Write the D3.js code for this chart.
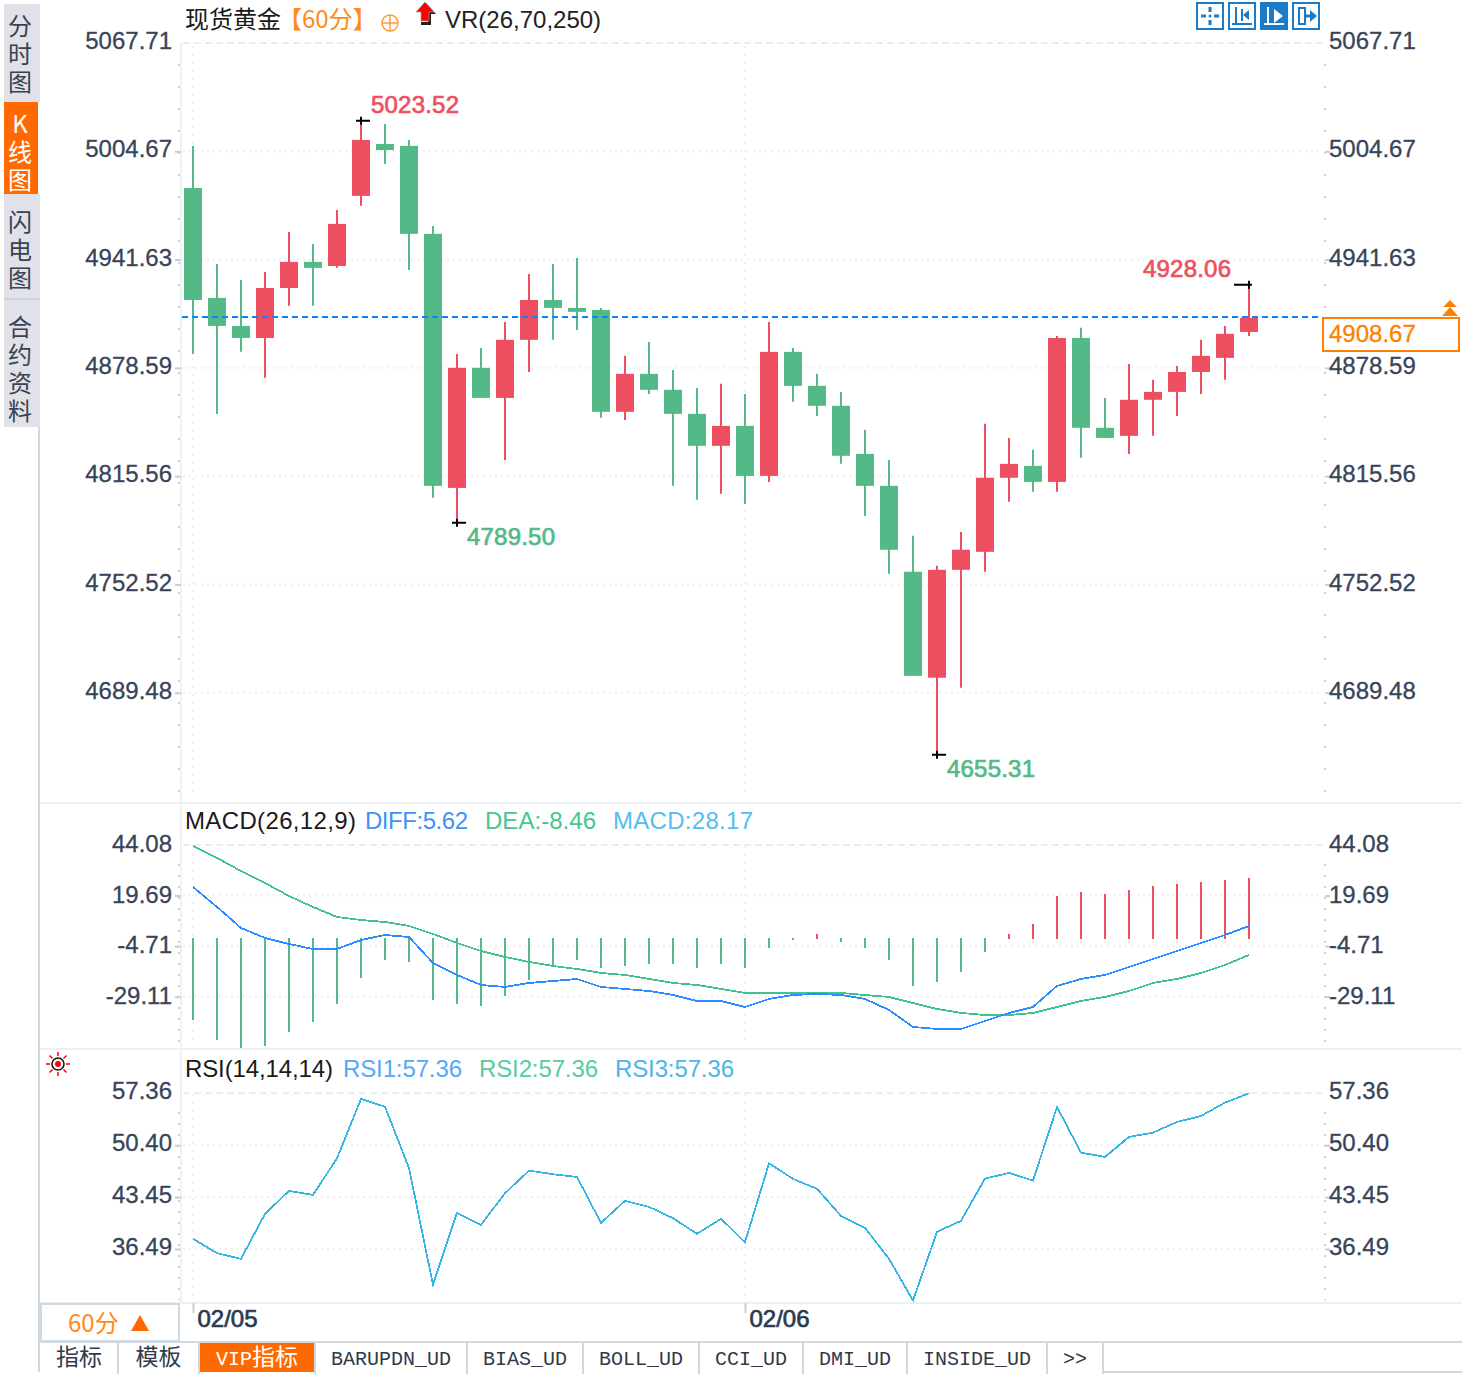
<!DOCTYPE html>
<html>
<head>
<meta charset="utf-8">
<script src="https://d3js.org/d3.v7.min.js"></script>
<style>
body {margin: 0; background: #fff;}
svg {display: block;}
text {font-family: "Liberation Sans", Arial, sans-serif;}
.cjk {font-family: "Noto Sans CJK SC", sans-serif;}
.mono {font-family: "Liberation Mono", "Noto Sans CJK SC", monospace;}
.side {writing-mode: vertical-rl; text-orientation: upright;}
.tick text {fill: #38445a; font-size: 24px; stroke: #38445a; stroke-width: 0.3px;}
.tick line {stroke: #c9ced4; stroke-width: 2;}
</style>
</head>
<body>
<svg width="1462" height="1374"></svg>
<script>
// candles
var open = [4983.3,4919.3,4903.0,4896.0,4925.1,4940.3,4937.9,4978.7,5008.9,5007.8,4956.6,4808.7,4878.6,4861.1,4894.9,4918.1,4913.5,4912.3,4853.0,4875.1,4865.8,4851.8,4833.2,4844.8,4815.7,4887.9,4868.1,4856.5,4828.5,4809.9,4759.9,4698.2,4761.0,4771.5,4814.6,4821.5,4812.2,4896.0,4843.7,4839.0,4860.0,4864.6,4876.2,4884.4,4899.5];
var close = [4918.1,4903.0,4896.0,4925.1,4940.3,4936.8,4962.4,5011.3,5005.4,4956.6,4809.9,4878.6,4861.1,4894.9,4918.1,4913.5,4911.2,4853.0,4875.1,4865.8,4851.8,4833.2,4844.8,4815.7,4887.9,4868.1,4856.5,4827.4,4809.9,4772.7,4699.3,4761.0,4772.7,4814.6,4822.7,4812.2,4896.0,4843.7,4837.8,4860.0,4864.6,4876.2,4885.6,4898.4,4907.7];
var high = [5007.8,4939.1,4929.8,4934.4,4957.7,4950.7,4970.5,5022.5,5020.6,5011.3,4961.2,4886.7,4890.2,4905.3,4933.3,4939.1,4942.6,4913.5,4885.6,4893.7,4877.4,4866.9,4869.3,4863.4,4905.3,4890.2,4875.1,4864.6,4842.5,4825.0,4780.8,4763.4,4783.1,4846.0,4837.8,4830.9,4897.2,4901.9,4861.1,4880.9,4871.6,4879.7,4894.9,4903.0,4926.9];
var low = [4886.7,4851.8,4887.9,4872.8,4914.7,4914.7,4936.8,4972.9,4997.3,4935.6,4802.9,4788.4,4861.1,4825.0,4876.2,4894.9,4900.7,4849.5,4848.3,4863.4,4809.9,4801.8,4805.3,4799.4,4812.2,4858.8,4850.6,4822.7,4792.4,4758.7,4699.3,4653.4,4692.3,4759.9,4800.6,4806.4,4806.4,4826.2,4837.8,4828.5,4839.0,4850.6,4863.4,4871.6,4897.2];

var macdBars = [-38.50,-47.89,-51.64,-50.70,-44.13,-39.44,-30.99,-18.78,-10.33,-11.27,-29.11,-30.99,-31.92,-27.23,-19.72,-13.50,-10.33,-14.08,-13.15,-12.21,-12.21,-14.08,-12.21,-14.08,-4.69,-0.94,1.88,-1.88,-4.69,-10.33,-22.54,-20.66,-15.96,-6.57,1.88,6.57,19.72,21.60,20.66,22.54,24.41,25.35,26.29,27.23,28.17];
var diff = [23.82,14.17,4.04,-0.78,-3.68,-6.09,-6.09,-1.75,0.66,-0.30,-12.84,-18.63,-23.46,-24.42,-22.49,-21.53,-20.56,-24.42,-25.38,-26.35,-28.28,-31.17,-31.17,-34.07,-30.21,-28.28,-27.80,-28.28,-30.21,-35.52,-43.72,-44.68,-44.68,-40.82,-36.96,-34.07,-23.94,-20.56,-18.63,-14.77,-10.91,-7.05,-3.19,0.66,5.00];
var dea = [43.60,37.81,31.54,25.75,19.48,14.17,9.35,7.90,6.94,5.01,1.15,-3.19,-7.05,-9.95,-12.36,-14.29,-15.74,-17.67,-18.63,-20.56,-22.49,-23.46,-25.38,-27.31,-27.31,-27.31,-27.31,-27.31,-28.28,-29.24,-32.14,-35.03,-36.96,-37.93,-37.93,-36.96,-34.07,-31.17,-29.24,-26.35,-22.49,-20.56,-17.67,-13.81,-8.98];
var rsi = [37.85,35.93,35.17,41.20,44.28,43.74,48.65,56.60,55.57,47.32,31.69,41.33,39.73,43.97,47.00,46.51,46.15,39.99,42.94,42.14,40.62,38.52,40.53,37.40,47.98,45.89,44.55,40.93,39.32,35.17,29.59,38.79,40.26,45.93,46.69,45.66,55.53,49.41,48.83,51.51,52.09,53.52,54.32,56.11,57.36];

var priceTicks = [5067.71,5004.67,4941.63,4878.59,4815.56,4752.52,4689.48];
var macdTicks = [44.08,19.69,-4.71,-29.11];
var rsiTicks = [57.36,50.40,43.45,36.49];
var lastPrice = 4908.67;
var dateLabels = ["02/05","02/06"];
var dateIndex = [0,23];

var sideTabs = ["分时图","K线图","闪电图","合约资料"];
var bottomTabs = ["指标","模板","VIP指标","BARUPDN_UD","BIAS_UD","BOLL_UD","CCI_UD","DMI_UD","INSIDE_UD",">>"];

var red = "#ee4f60", green = "#53b987", orange = "#ff7f00", frame = "#d0d8e0", sep = "#edf1f5";
var svg = d3.select("svg");
var bars = d3.range(open.length);

var xs = d3.scalePoint().domain(bars).range([193,1249]);
var ys = d3.scaleLinear().domain([5067.71,4689.48]).range([43,692.7]);
var ym = d3.scaleLinear().domain([44.08,-29.11]).range([845,996.7]);
var yh = d3.scaleLinear().domain([0,28.17]).range([938,878]);
var yr = d3.scaleLinear().domain([57.36,36.49]).range([1093.3,1249]);

// frame + pane separators
[[40,803,1462,803],[40,1049,1462,1049],[40,1303,1462,1303]].forEach(function(l){
  svg.append("line").attr("x1",l[0]).attr("y1",l[1]).attr("x2",l[2]).attr("y2",l[3]).attr("stroke",sep).attr("stroke-width",2);
});
svg.append("line").attr("x1",181).attr("y1",43).attr("x2",181).attr("y2",1303).attr("stroke",sep).attr("stroke-width",2);
svg.append("line").attr("x1",39).attr("y1",427).attr("x2",39).attr("y2",1372).attr("stroke",frame).attr("stroke-width",2);

// grid, axis and dotted axis rail for one pane
function pane(scale, ticks, top, bottom, dots, textY) {
  var g = svg.append("g");
  ticks.forEach(function(t,i){
    g.append("line").attr("x1",183).attr("x2",1322).attr("y1",scale(t)).attr("y2",scale(t))
      .attr("stroke",i==0?"#e9edf0":"#eceeef").attr("stroke-width",2)
      .attr("stroke-dasharray",i==0?"7,4":"2,4");
  });
  dateIndex.forEach(function(d){
    g.append("line").attr("x1",xs(d)).attr("x2",xs(d)).attr("y1",top).attr("y2",bottom)
      .attr("stroke","#eef0f2").attr("stroke-width",2).attr("stroke-dasharray","2,6");
  });
  [179,1325].forEach(function(x){
    g.append("line").attr("x1",x).attr("x2",x).attr("y1",top+18).attr("y2",bottom)
      .attr("stroke","#cdd2d8").attr("stroke-width",2).attr("stroke-dasharray","2,"+dots);
  });
  var fmt = function(d){ return d.toFixed(2); };
  var left = svg.append("g").attr("transform","translate(181,0)")
    .call(d3.axisLeft(scale).tickValues(ticks).tickFormat(fmt).tickSize(6).tickPadding(3));
  var right = svg.append("g").attr("transform","translate(1325,0)")
    .call(d3.axisRight(scale).tickValues(ticks).tickFormat(fmt).tickSize(5).tickPadding(-1));
  [left,right].forEach(function(a){
    a.select(".domain").remove();
    a.selectAll("text").attr("dy","0.32em").attr("y",textY);
    a.select(".tick line").remove();
    a.attr("font-size",null).attr("font-family",null);
  });
}
pane(ys,priceTicks,46,798,20,-2);
pane(ym,macdTicks,846,1044,9,-1);
pane(yr,rsiTicks,1094,1300,9,-2);

// candles
var candle = svg.append("g").selectAll("g").data(bars).enter().append("g");
candle.append("line")
  .attr("x1",function(i){return xs(i);}).attr("x2",function(i){return xs(i);})
  .attr("y1",function(i){return ys(high[i]);}).attr("y2",function(i){return ys(low[i]);})
  .attr("stroke",function(i){return close[i]>open[i]?red:green;}).attr("stroke-width",2);
candle.append("rect")
  .attr("x",function(i){return xs(i)-9;}).attr("width",18)
  .attr("y",function(i){return ys(Math.max(open[i],close[i]));})
  .attr("height",function(i){return Math.max(2,Math.abs(ys(open[i])-ys(close[i])));})
  .attr("fill",function(i){return close[i]>open[i]?red:green;});

// last price line and box
svg.append("line").attr("x1",182).attr("x2",1318).attr("y1",ys(lastPrice)+0.7).attr("y2",ys(lastPrice)+0.7)
  .attr("stroke","#0a84ff").attr("stroke-width",2).attr("stroke-dasharray","6,4");
svg.append("rect").attr("x",1323).attr("y",318).attr("width",136).attr("height",33)
  .attr("fill","#fff").attr("stroke",orange).attr("stroke-width",2);
svg.append("text").attr("x",1329).attr("y",342).attr("font-size",24).attr("fill",orange).attr("stroke",orange).attr("stroke-width",0.3).text("4908.67");
svg.append("path").attr("fill",orange).attr("d","M1450 300l7 7h-14zM1450 307l8 9h-16z");

// high / low marks
var marks = [
  {i:7, v:high[7], text:"5023.52", color:red, tx:371, ty:113, a:"start", x1:-5, x2:9},
  {i:11, v:low[11], text:"4789.50", color:green, tx:467, ty:545, a:"start", x1:-5, x2:9},
  {i:31, v:low[31], text:"4655.31", color:green, tx:947, ty:777, a:"start", x1:-5, x2:9},
  {i:44, v:high[44], text:"4928.06", color:red, tx:1231, ty:277, a:"end", x1:-15, x2:3}
];
marks.forEach(function(m){
  var px = xs(m.i), py = ys(m.v);
  svg.append("path").attr("stroke","#000").attr("stroke-width",2).attr("fill","none")
    .attr("d","M"+(px+m.x1)+" "+py+"H"+(px+m.x2)+"M"+px+" "+(py-4)+"V"+(py+4));
  svg.append("text").attr("x",m.tx).attr("y",m.ty).attr("text-anchor",m.a)
    .attr("font-size",24).attr("fill",m.color).attr("stroke",m.color).attr("stroke-width",0.7)
    .attr("textLength",88).text(m.text);
});

// macd pane
svg.append("g").selectAll("line").data(bars).enter().append("line")
  .attr("x1",function(i){return xs(i);}).attr("x2",function(i){return xs(i);})
  .attr("y1",function(i){return macdBars[i]>0?yh(0)+1:yh(0);}).attr("y2",function(i){return yh(macdBars[i]);})
  .attr("stroke",function(i){return macdBars[i]>0?red:green;}).attr("stroke-width",2);
var macdLine = function(arr){ return d3.line().x(function(d,i){return xs(i);}).y(function(d){return ym(d);})(arr); };
svg.append("path").attr("d",macdLine(dea)).attr("fill","none").attr("stroke","#3ec28f").attr("stroke-width",1.8).attr("shape-rendering","crispEdges");
svg.append("path").attr("d",macdLine(diff)).attr("fill","none").attr("stroke","#2b8cff").attr("stroke-width",1.8).attr("shape-rendering","crispEdges");

// rsi pane
svg.append("path").attr("fill","none").attr("stroke","#36b4e6").attr("stroke-width",1.8).attr("shape-rendering","crispEdges")
  .attr("d",d3.line().x(function(d,i){return xs(i);}).y(function(d){return yr(d);})(rsi));

// date axis
svg.append("g").attr("transform","translate(0,1303)")
  .call(d3.axisBottom(xs).tickValues(dateIndex).tickFormat(function(d){return dateLabels[dateIndex.indexOf(d)];}).tickSize(10).tickPadding(0))
  .call(function(a){
    a.select(".domain").remove();
    a.selectAll("text").attr("text-anchor","start").attr("x",4).attr("y",0).attr("dy",24)
      .style("stroke-width","0.7px").style("fill","#2c3a50").style("stroke","#2c3a50");
  });

// headers
function label(x,y,str,color,cls,len) {
  var t = svg.append("text").attr("x",x).attr("y",y).attr("font-size",24).attr("fill",color).attr("class",cls||null).text(str);
  if (len) t.attr("textLength",len);
  return t;
}
label(185,28,"现货黄金","#1a1a1a","cjk");
label(278,28,"【60分】","#ff8a1a","cjk");
label(445,28,"VR(26,70,250)","#222");
label(185,829,"MACD(26,12,9)","#1a1a1a",null,171);
label(365,829,"DIFF:5.62","#3f93f5",null,103);
label(485,829,"DEA:-8.46","#45c690",null,111);
label(613,829,"MACD:28.17","#55bdf2",null,140);
label(185,1077,"RSI(14,14,14)","#1a1a1a",null,148);
label(343,1077,"RSI1:57.36","#55a8f7",null,119);
label(479,1077,"RSI2:57.36","#58cc9c",null,119);
label(615,1077,"RSI3:57.36","#48b6e6",null,119);

// small crosshair circle next to the title
svg.append("path").attr("fill","none").attr("stroke","#ff9a3c").attr("stroke-width",1.5)
  .attr("d","M382 23a8 8 0 1 0 16 0a8 8 0 1 0 -16 0M382 23h16M390 15v16");
// red arrow
svg.append("path").attr("fill","#222").attr("d","M427 4l9 10h-5v11h-10v-3h7v-8h-7z");
svg.append("path").attr("fill","#f00").attr("stroke","#999").attr("stroke-width",0.7).attr("d","M425 2l9 10h-5v9h-8v-9h-5z");

// sun icon in the rsi pane
svg.append("circle").attr("cx",58).attr("cy",1064).attr("r",6).attr("fill","#fff").attr("stroke","#111").attr("stroke-width",1.5);
svg.append("circle").attr("cx",58).attr("cy",1064).attr("r",3).attr("fill","#f00");
svg.append("path").attr("stroke","#f00").attr("stroke-width",1.5)
  .attr("d","M58 1052v4M58 1072v4M46 1064h4M66 1064h4M49.5 1055.5l3 3M63.5 1069.5l3 3M66.5 1055.5l-3 3M52.5 1069.5l-3 3");

// tool buttons top right
var blue = "#1a7cc8";
[1196,1228,1260,1292].forEach(function(x,i){
  var on = i==2;
  svg.append("rect").attr("x",x+1).attr("y",3).attr("width",26).attr("height",26)
    .attr("fill",on?blue:"#fff").attr("stroke",blue).attr("stroke-width",2);
  var ink = on?"#fff":blue;
  var g = svg.append("g").attr("transform","translate("+x+",2)").attr("fill","none").attr("stroke",ink).attr("stroke-width",2);
  if (i==0) {
    g.append("path").attr("stroke-width",3).attr("d","M14 5v5M14 18v5M5 14h5M18 14h5");
    g.append("circle").attr("cx",14).attr("cy",14).attr("r",1.5).attr("fill",ink).attr("stroke","none");
  } else if (i==3) {
    g.append("path").attr("d","M7 6h6v16h-6z");
    g.append("path").attr("stroke-width",3).attr("d","M13 14h8");
    g.append("path").attr("fill",ink).attr("stroke","none").attr("d","M18 8l7 6-7 6z");
  } else {
    g.append("path").attr("d","M8 5v18M4 22h20");
    g.append("path").attr("fill",ink).attr("stroke","none").attr("d",i==1?"M21 8l-6 5 6 5z":"M14 7l9 7-9 7z");
    if (i==1) g.append("path").attr("d","M14 7v12");
  }
});

// left side tabs, one vertical text per tab
var sideY = [[4,102],[102,194],[194,298],[300,427]];
var sideStart = [14,112,210,315];
sideTabs.forEach(function(t,i){
  var active = i==1;
  svg.append("rect").attr("x",4).attr("y",sideY[i][0]).attr("width",active?34:36).attr("height",sideY[i][1]-sideY[i][0]).attr("fill",active?"#ff6a00":"#e0e1e9");
  svg.append("text").attr("class","cjk side").attr("x",20).attr("y",sideStart[i])
    .attr("font-size",24).attr("letter-spacing",4).attr("fill",active?"#fff":"#3a4252").text(t);
});
svg.append("rect").attr("x",4).attr("y",298).attr("width",36).attr("height",2).attr("fill","#cfd3da");

// 60min box
svg.append("rect").attr("x",41).attr("y",1304).attr("width",138).attr("height",37).attr("fill","#fff").attr("stroke",frame).attr("stroke-width",2);
svg.append("text").attr("class","cjk").attr("x",68).attr("y",1332).attr("font-size",24).attr("fill","#ff8a1a").text("60分");
svg.append("path").attr("fill","#ff6a00").attr("d","M140 1315l9 16h-18z");

// bottom tab bar
var tabEdges = [40,118,199,315,467,583,699,803,907,1047,1103];
svg.append("line").attr("x1",40).attr("x2",1462).attr("y1",1342).attr("y2",1342).attr("stroke",frame).attr("stroke-width",2);
svg.append("line").attr("x1",1103).attr("x2",1462).attr("y1",1372).attr("y2",1372).attr("stroke",frame).attr("stroke-width",2);
bottomTabs.forEach(function(t,i){
  var x0 = tabEdges[i], x1 = tabEdges[i+1], cx = (x0+x1)/2;
  var on = t=="VIP指标";
  if (on) svg.append("rect").attr("x",200).attr("y",1343).attr("width",114).attr("height",29).attr("fill","#ff6a00");
  svg.append("line").attr("x1",x1).attr("x2",x1).attr("y1",1343).attr("y2",1374).attr("stroke",frame).attr("stroke-width",2);
  var el = svg.append("text").attr("class","mono").attr("x",cx).attr("y",1365).attr("text-anchor","middle")
    .attr("fill",on?"#fff":"#2e3a4a").attr("font-size",20);
  // latin part at 20px, chinese part a little larger
  var m = t.match(/^([\x00-\x7f]*)(.*)$/);
  if (m[1]) el.append("tspan").text(m[1]);
  if (m[2]) el.append("tspan").attr("font-size",23).attr("class","cjk").text(m[2]);
});
</script>
</body>
</html>
